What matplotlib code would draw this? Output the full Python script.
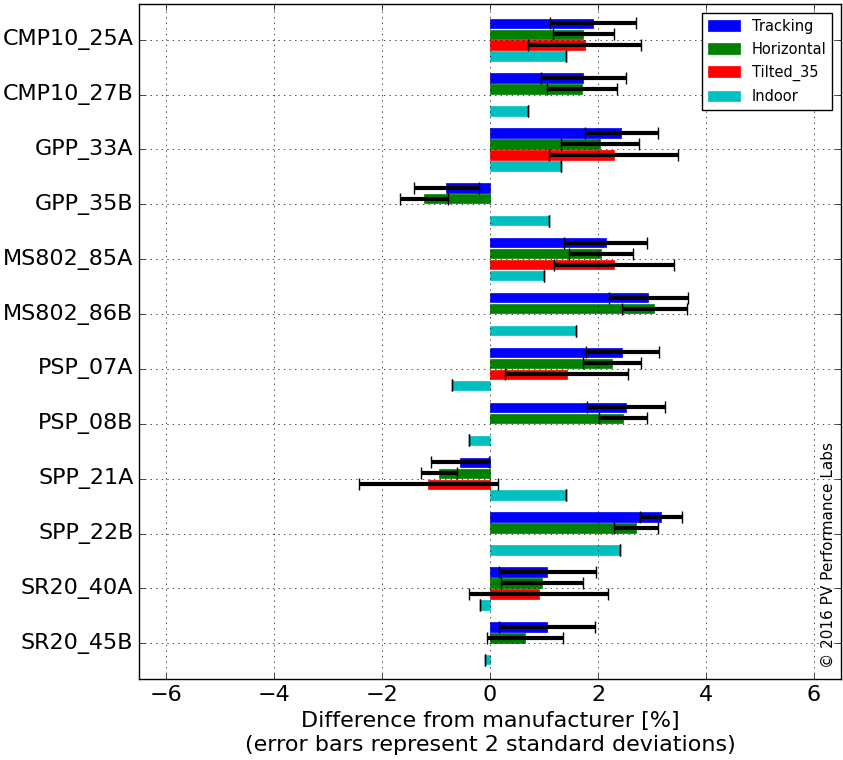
import numpy as np
import matplotlib
matplotlib.use('Agg')
import matplotlib.pyplot as plt

plt.style.use('classic')

nan = np.nan

# 组件名称
categories = ['CMP10_25A', 'CMP10_27B', 'GPP_33A', 'GPP_35B', 'MS802_85A', 'MS802_86B',
              'PSP_07A', 'PSP_08B', 'SPP_21A', 'SPP_22B', 'SR20_40A', 'SR20_45B']

# 各测试条件下与厂家标称值的差异 [%]
tracking = [1.91, 1.73, 2.43, -0.81, 2.14, 2.93, 2.45, 2.52, -0.56, 3.17, 1.06, 1.05]
tracking_err = [0.80, 0.78, 0.68, 0.60, 0.77, 0.73, 0.68, 0.72, 0.54, 0.39, 0.90, 0.89]
horizontal = [1.73, 1.70, 2.03, -1.22, 2.06, 3.04, 2.26, 2.46, -0.94, 2.70, 0.96, 0.65]
horizontal_err = [0.57, 0.65, 0.72, 0.44, 0.59, 0.60, 0.53, 0.45, 0.33, 0.41, 0.76, 0.71]
tilted = [1.75, nan, 2.29, nan, 2.29, nan, 1.42, nan, -1.14, nan, 0.90, nan]
tilted_err = [1.04, nan, 1.20, nan, 1.11, nan, 1.14, nan, 1.28, nan, 1.28, nan]
indoor = [1.40, 0.70, 1.31, 1.10, 1.00, 1.60, -0.70, -0.38, 1.41, 2.41, -0.19, -0.085]
indoor_err = [0.0] * len(categories)

series = [
    ('Tracking', tracking, tracking_err, 'b'),
    ('Horizontal', horizontal, horizontal_err, 'g'),
    ('Tilted_35', tilted, tilted_err, 'r'),
    ('Indoor', indoor, indoor_err, 'c'),
]

fig = plt.figure(figsize=(8.43, 7.6), dpi=100, facecolor='w')
ax = fig.add_axes([139 / 843, 1 - 679 / 760, 702 / 843, 675 / 760])

ind = np.arange(len(categories))
width = 0.2
for k, (name, vals, errs, color) in enumerate(series):
    pos = ind - 0.3 + k * width
    ax.barh(pos, vals, height=0.17, align='center', color=color,
            edgecolor=color, linewidth=0.5, label=name)
    ax.errorbar(vals, pos, xerr=errs, fmt='none', ecolor='k',
                elinewidth=3, capsize=4, capthick=1)

ax.set_yticks(ind)
ax.set_yticklabels(categories, fontsize=16)
ax.set_ylim(len(categories) - 0.35, -0.65)
ax.set_xlim(-6.5, 6.5)
ax.set_xticks([-6, -4, -2, 0, 2, 4, 6])
ax.tick_params(axis='x', labelsize=16)
ax.grid(True)
ax.set_xlabel('Difference from manufacturer [%]\n(error bars represent 2 standard deviations)',
              fontsize=16)

ax.legend(loc='upper right', fontsize=10.5, handlelength=2.2, labelspacing=0.55,
          borderaxespad=0.6)

ax.text(0.993, 0.016, '\u00a9 2016 PV Performance Labs', rotation=90,
        transform=ax.transAxes, ha='right', va='bottom', fontsize=11)

fig.savefig('out.png', dpi=100, facecolor='w')
